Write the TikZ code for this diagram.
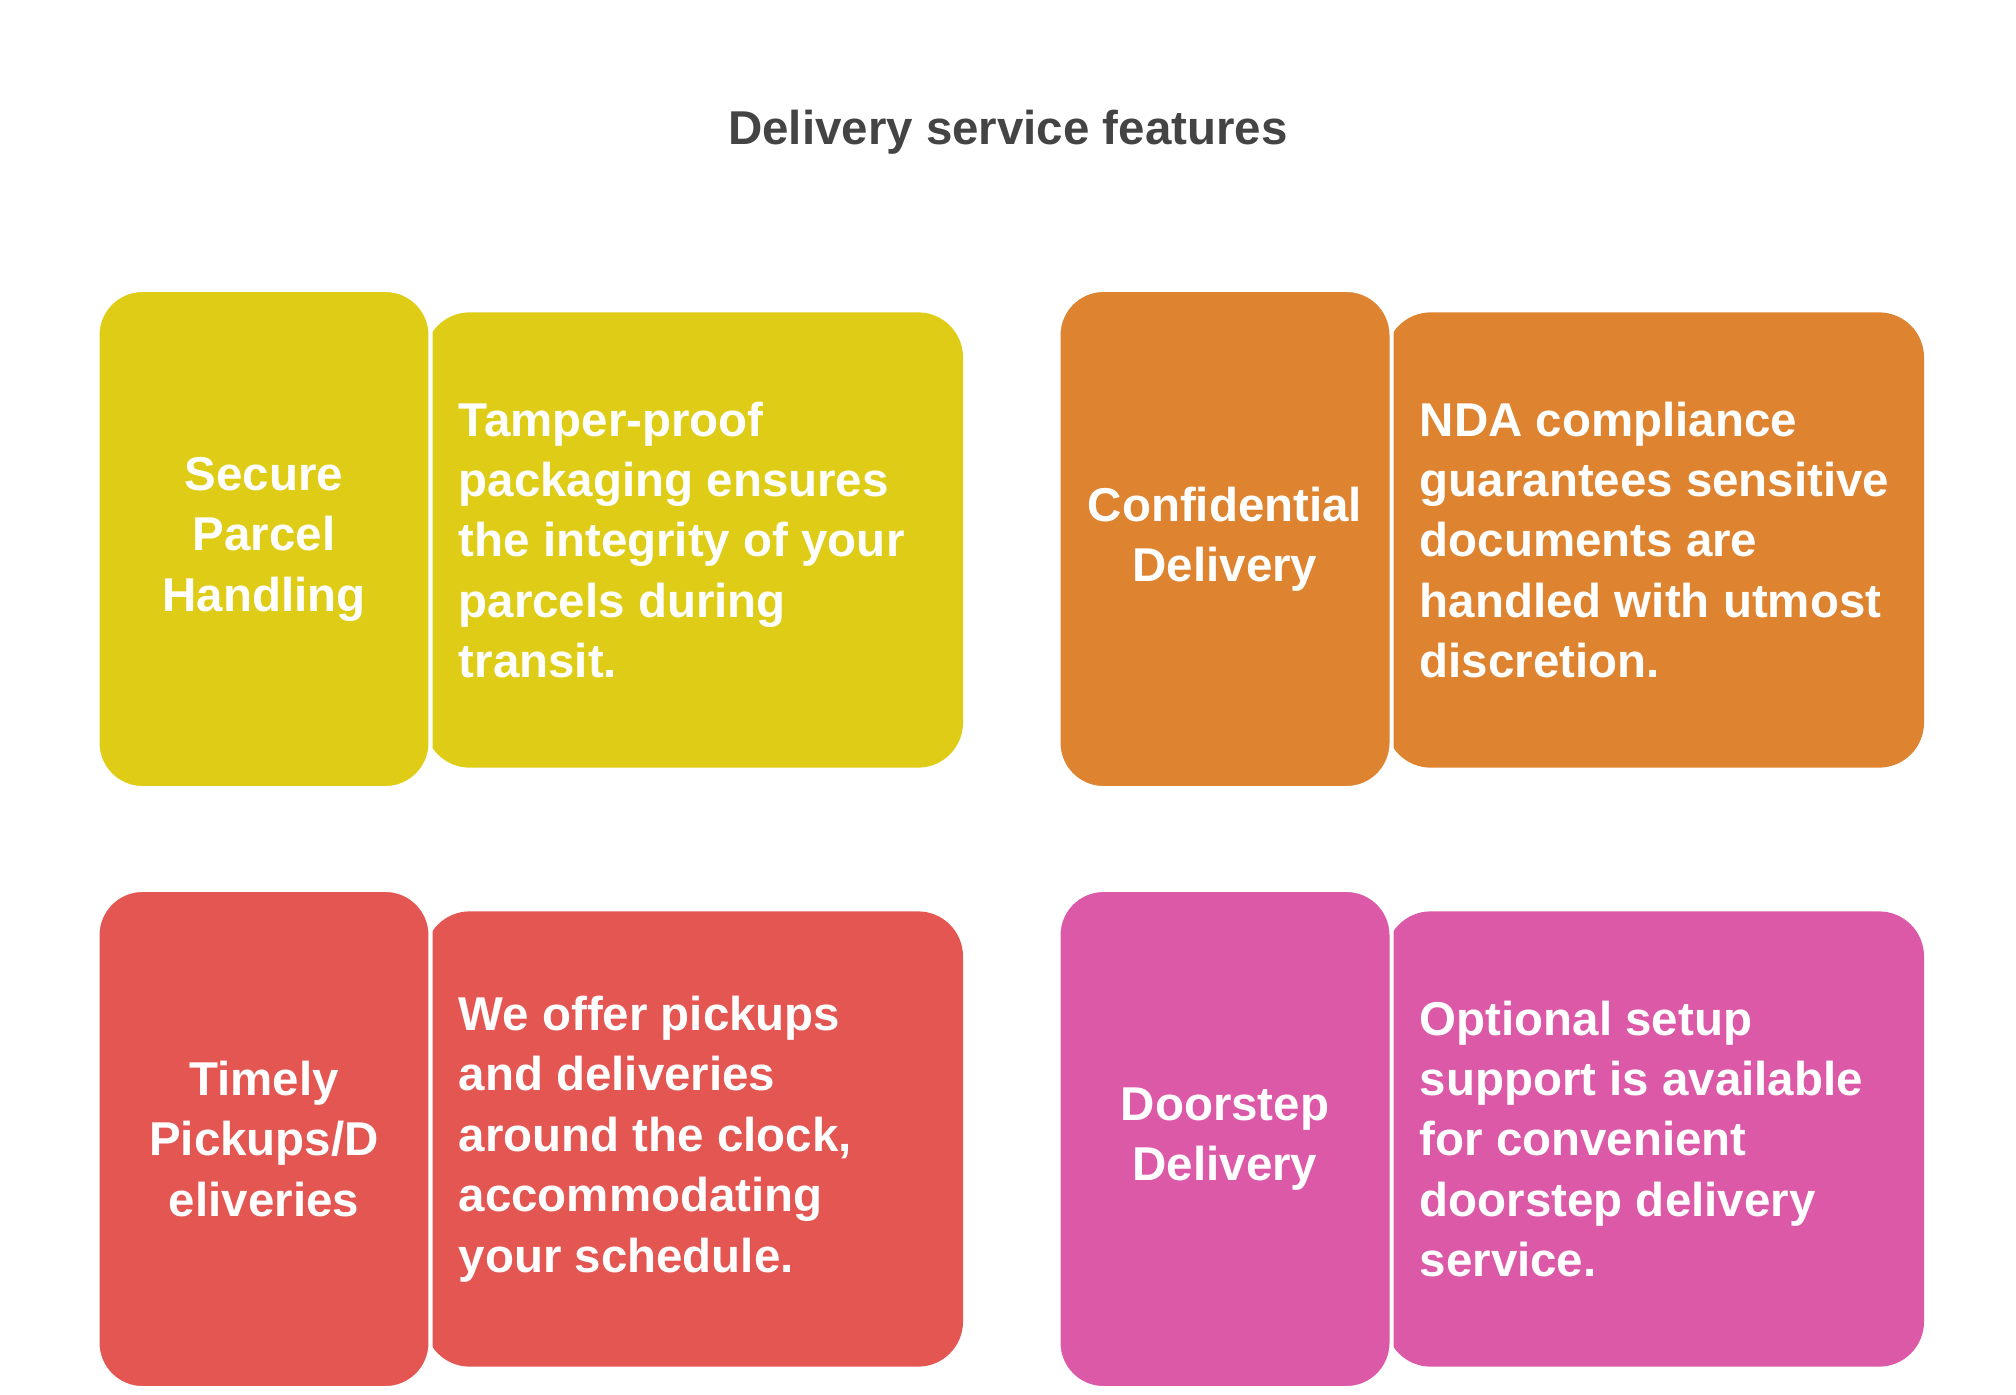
\documentclass[tikz,border=0pt]{standalone}
\usepackage{fontspec}
\setmainfont{Liberation Sans}
\usetikzlibrary{positioning}
\definecolor{cyellow}{HTML}{DFCC17}
\definecolor{corange}{HTML}{DE832F}
\definecolor{cred}{HTML}{E35652}
\definecolor{cpink}{HTML}{DC59A8}
\definecolor{ctitle}{HTML}{444444}
\hyphenpenalty=10000
\exhyphenpenalty=10000
\begin{document}
\begin{tikzpicture}
             %% setup
             [
                 x=0.01cm, y=-0.01cm,
                 cardfont/.style={font=\bfseries\fontsize{13.5}{17.2}\selectfont},
                 headbox/.style={rectangle, rounded corners=0.45cm, draw=white, line width=1.2pt, minimum width=3.33cm, minimum height=4.98cm, text width=2.9cm, align=center, text=white, cardfont},
                 textbox/.style={rectangle, rounded corners=0.45cm, anchor=west, minimum width=5.35cm, minimum height=4.55cm, text width=4.7cm, inner xsep=0.34cm, align=flush left, text=white, cardfont},
             ]
                 \useasboundingbox (0,0) rectangle (2016,1394);

                 %% Title
                 \node [text=ctitle, font=\bfseries\fontsize{13.5}{16}\selectfont] (title) at (1008,132) {Delivery service features};

                 %% Nodes
                 \node [textbox, fill=cyellow] (secureText) at (424,540) {Tamper-proof packaging ensures the integrity of your parcels during transit.};
                 \node [headbox, fill=cyellow] (secure) at (264,539) {Secure Parcel Handling};

                 \node [textbox, fill=corange] (confText) at (1385,540) {NDA compliance guarantees sensitive documents are handled with utmost discretion.};
                 \node [headbox, fill=corange] (conf) at (1225,539) {Confidential Delivery};

                 \node [textbox, fill=cred] (timelyText) at (424,1139) {We offer pickups and deliveries around the clock, accommodating your schedule.};
                 \node [headbox, fill=cred] (timely) at (264,1139) {Timely Pickups/D eliveries};

                 \node [textbox, fill=cpink] (doorText) at (1385,1139) {Optional setup support is available for convenient doorstep delivery service.};
                 \node [headbox, fill=cpink] (door) at (1225,1139) {Doorstep Delivery};
        \end{tikzpicture}
\end{document}
